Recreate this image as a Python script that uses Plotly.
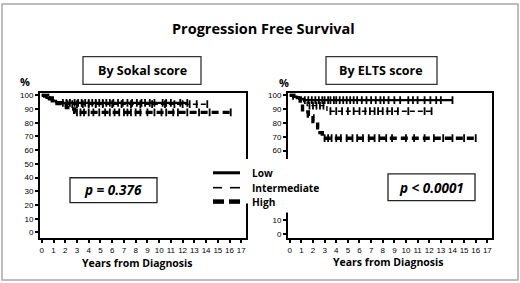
import numpy as np
import plotly.graph_objects as go

W, H = 520, 283
def X(px): return px / W
def Y(py): return 1 - py / H

# ---------------- data ----------------
x_ticks = list(range(0, 18))
y_ticks_left = list(range(0, 101, 10))
y_ticks_right = [0, 10, 60, 70, 80, 90, 100]   # 20-50 hidden behind legend in reference

# Sokal score (left panel): step times and survival (%)
sokal_low_t = [0, 0.2, 0.4, 0.6, 0.9, 1.2, 1.7, 12.4]
sokal_low_s = [100, 99, 98, 97, 96, 95, 94.5, 94.5]
sokal_low_c = [1.8, 2.1, 2.4, 2.8, 3.1, 3.4, 3.7, 4.0, 4.3, 4.6, 4.9, 5.2, 5.5, 5.8,
               6.1, 6.5, 6.9, 7.3, 7.7, 8.1, 8.5, 8.8, 9.2, 9.6, 10.3, 10.6, 11.0, 11.8, 12.4]
sokal_int_t = [0, 0.3, 0.7, 1.0, 1.4, 1.9, 14.1]
sokal_int_s = [100, 99, 97.5, 96, 95, 93.5, 93.5]
sokal_int_c = [2.2, 2.6, 3.0, 3.5, 4.0, 4.6, 5.2, 6.0, 6.8, 7.6, 8.4, 9.4, 10.5, 11.3, 12.0, 12.6, 13.2, 14.1]
sokal_high_t = [0, 0.5, 0.9, 1.3, 1.7, 2.1, 2.5, 2.8, 16.1]
sokal_high_s = [100, 98, 96, 94, 92.5, 91, 90, 87.5, 87.5]
sokal_high_c = [3.0, 3.3, 3.6, 4.0, 4.4, 4.9, 5.4, 5.8, 6.2, 6.6, 7.0, 7.3, 7.6, 8.0,
                8.4, 9.0, 9.6, 10.2, 10.6, 11.2, 11.6, 12.4, 13.4, 14.3, 16.1]

# ELTS score (right panel)
elts_low_t = [0, 0.3, 0.6, 0.9, 1.2, 14.0]
elts_low_s = [100, 99, 98, 97.5, 96.5, 96.5]
elts_low_c = [1.3, 1.6, 1.9, 2.2, 2.5, 2.8, 3.0, 3.3, 3.5, 3.8, 4.0, 4.3, 4.6, 4.9, 5.2, 5.5,
              5.8, 6.2, 6.6, 7.0, 7.4, 7.8, 8.1, 8.5, 9.0, 9.5, 10.2, 10.6, 11.0, 11.6,
              12.1, 12.6, 13.0, 14.0]
elts_int_t = [0, 0.4, 0.8, 1.2, 1.5, 3.2, 12.2]
elts_int_s = [100, 99, 97.5, 95.5, 92.5, 88.5, 88.5]
elts_int_c = [1.7, 2.0, 2.3, 2.6, 2.9, 3.5, 4.0, 4.5, 5.0, 5.5, 6.0, 6.5, 6.9, 7.3, 7.6,
              8.0, 8.4, 8.8, 9.3, 10.2, 11.6, 12.2]
elts_high_t = [0, 0.35, 0.9, 1.1, 1.6, 2.0, 2.4, 2.6, 2.8, 16.0]
elts_high_s = [100, 98, 93.5, 88, 85, 81, 76.5, 73, 69, 69]
elts_high_c = [3.0, 3.3, 3.6, 4.0, 4.4, 4.9, 5.4, 5.8, 6.3, 6.8, 7.3, 7.7, 8.3, 8.8,
               10.0, 10.7, 11.6, 12.4, 13.2, 14.0, 15.0, 16.0]

series_names = ["Low", "Intermediate", "High"]
p_left, p_right = "p = 0.376", "p < 0.0001"

# ---------------- styles ----------------
styles = {
    "Low": dict(width=2.2, dash="solid"),
    "Intermediate": dict(width=1.4, dash="5px,3px"),
    "High": dict(width=3.4, dash="7px,4px"),
}

def step_val(t, s, q):
    idx = np.searchsorted(np.array(t), np.array(q), side="right") - 1
    return np.array(s)[np.clip(idx, 0, len(s) - 1)]

fig = go.Figure()

panels = [
    ("x", "y", [(sokal_low_t, sokal_low_s, sokal_low_c),
                (sokal_int_t, sokal_int_s, sokal_int_c),
                (sokal_high_t, sokal_high_s, sokal_high_c)]),
    ("x2", "y2", [(elts_low_t, elts_low_s, elts_low_c),
                  (elts_int_t, elts_int_s, elts_int_c),
                  (elts_high_t, elts_high_s, elts_high_c)]),
]
for xa, ya, data in panels:
    for name, (t, s, c) in zip(series_names, data):
        st = styles[name]
        fig.add_trace(go.Scatter(x=t, y=s, mode="lines", line_shape="hv",
                                 line=dict(color="black", width=st["width"], dash=st["dash"]),
                                 xaxis=xa, yaxis=ya, showlegend=False, hoverinfo="skip"))
        fig.add_trace(go.Scatter(x=c, y=step_val(t, s, c), mode="markers",
                                 marker=dict(symbol="line-ns-open", size=5.5, color="black",
                                             line=dict(color="black", width=1.8)),
                                 xaxis=xa, yaxis=ya, showlegend=False, hoverinfo="skip"))

axis_common = dict(showline=True, linecolor="black", linewidth=2, mirror=True,
                   ticks="outside", ticklen=3, tickwidth=2, tickcolor="black",
                   showgrid=False, zeroline=False,
                   tickfont=dict(family="Liberation Sans Narrow, Liberation Sans, Arial", size=8, color="black"))
xr = [-0.15, 17.4]
ydom = [Y(238), Y(92)]
fig.update_layout(
    width=W, height=H, margin=dict(l=0, r=0, t=0, b=0), autosize=False,
    paper_bgcolor="white", plot_bgcolor="white",
    xaxis=dict(domain=[X(40), X(246)], range=xr, tickvals=x_ticks, anchor="y", **axis_common),
    yaxis=dict(domain=ydom, range=[-4.3, 101.4], tickvals=y_ticks_left, anchor="x", **axis_common),
    xaxis2=dict(domain=[X(288), X(492)], range=xr, tickvals=x_ticks, anchor="y2", **axis_common),
    yaxis2=dict(domain=ydom, range=[-3.3, 101.4], tickvals=y_ticks_right, anchor="x2", **axis_common),
)

shapes = []
shapes.append(dict(type="rect", xref="paper", yref="paper", x0=X(2), x1=X(518), y0=Y(280), y1=Y(2),
                   line=dict(color="#a8a8a8", width=1.5), layer="below"))
for x0, x1 in [(83, 201), (326, 437)]:
    shapes.append(dict(type="rect", xref="paper", yref="paper", x0=X(x0), x1=X(x1), y0=Y(83), y1=Y(55),
                       line=dict(color="#333", width=1.3), fillcolor="white", layer="above"))
for x0, x1, y0, y1 in [(70, 157, 177, 202), (388, 475, 173, 200)]:
    shapes.append(dict(type="rect", xref="paper", yref="paper", x0=X(x0), x1=X(x1), y0=Y(y1), y1=Y(y0),
                       line=dict(color="#222", width=1.3), fillcolor="white", layer="above"))
shapes.append(dict(type="rect", xref="paper", yref="paper", x0=X(206), x1=X(345), y0=Y(203), y1=Y(158),
                   line=dict(width=0), fillcolor="white", layer="above"))
shapes.append(dict(type="rect", xref="paper", yref="paper", x0=X(283), x1=X(300), y0=Y(212), y1=Y(200),
                   line=dict(width=0), fillcolor="white", layer="above"))
for name, yy in zip(series_names, [172, 187, 201]):
    if name == "Low":
        shapes.append(dict(type="line", xref="paper", yref="paper", x0=X(213), x1=X(240), y0=Y(yy), y1=Y(yy),
                           line=dict(color="black", width=3), layer="above"))
    elif name == "Intermediate":
        for a, b in [(213, 222), (230, 240)]:
            shapes.append(dict(type="line", xref="paper", yref="paper", x0=X(a), x1=X(b), y0=Y(yy), y1=Y(yy),
                               line=dict(color="black", width=1.6), layer="above"))
    else:
        for a, b in [(213, 224), (229, 240)]:
            shapes.append(dict(type="line", xref="paper", yref="paper", x0=X(a), x1=X(b), y0=Y(yy), y1=Y(yy),
                               line=dict(color="black", width=4.5), layer="above"))
fig.update_layout(shapes=shapes)

bold = "Open Sans, Noto Sans, sans-serif"
ann = []
def text(px, py, s, size, **kw):
    d = dict(xref="paper", yref="paper", x=X(px), y=Y(py), text=s, showarrow=False,
             font=dict(family=bold, size=size, color="black", weight="bold"),
             xanchor=kw.get("xanchor", "center"), yanchor="middle")
    if kw.get("italic"):
        d["font"]["style"] = "italic"
    ann.append(d)

text(263, 27, "Progression Free Survival", 14.5)
text(142, 69, "By Sokal score", 12.5)
text(381, 69, "By ELTS score", 12.5)
text(25, 80, "%", 11)
text(284, 81, "%", 11)
text(137, 263, "Years from Diagnosis", 10.5)
text(388, 262, "Years from Diagnosis", 10.5)
for name, yy in zip(series_names, [172, 187, 201]):
    text(250, yy, name, 10.2, xanchor="left")
text(113, 189, p_left, 13.5, italic=True)
text(431, 187, p_right, 13.5, italic=True)
fig.update_layout(annotations=ann)

fig.write_html("out.html", config={"displayModeBar": False, "staticPlot": True},
               post_script="document.body.style.margin='0px';document.body.style.overflow='hidden';")
